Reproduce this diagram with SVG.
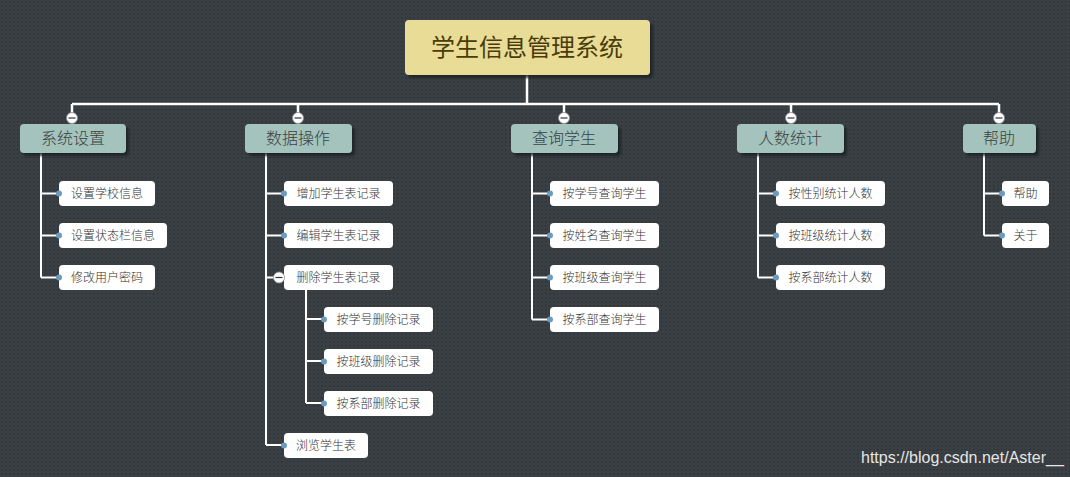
<svg xmlns="http://www.w3.org/2000/svg" width="1070" height="477" viewBox="0 0 1070 477">
<defs>
<pattern id="dots" width="4" height="4" patternUnits="userSpaceOnUse">
<rect width="4" height="4" fill="#393f43"/>
<rect x="1" y="1" width="1.5" height="1.5" fill="#2e3336"/>
</pattern>
<filter id="sh" x="-10%" y="-10%" width="130%" height="140%">
<feDropShadow dx="3" dy="3" stdDeviation="1" flood-color="#1e2224" flood-opacity="0.8"/>
</filter>
</defs>
<style>
.root{fill:#e8dc96;}
.l1{fill:#a3c3bc;}
.leaf{fill:#ffffff;}
.t0{font-family:"Noto Sans CJK SC","Liberation Sans",sans-serif;font-size:24px;fill:#4a3c0c;text-anchor:middle;}
.t1{font-family:"Noto Sans CJK SC","Liberation Sans",sans-serif;font-size:16px;font-weight:300;fill:#3a4244;text-anchor:middle;}
.t2{font-family:"Noto Sans CJK SC","Liberation Sans",sans-serif;font-size:12px;font-weight:300;fill:#333333;text-anchor:middle;}
.ln{stroke:#ffffff;stroke-width:2.5;fill:none;}
.lc{stroke:#ffffff;stroke-width:2;fill:none;}
.dot{fill:#6b9cc0;}
.col{fill:#ffffff;stroke:#8a9090;stroke-width:0.8;}
.minus{stroke:#333;stroke-width:1.2;}
</style>
<rect width="1070" height="477" fill="url(#dots)"/>

<g id="connectors">
<path class="ln" d="M527 75 V104 M72 104 H999 M72 104 V118 M298 104 V118 M564 104 V118 M791 104 V118 M999 104 V118"/>
<path class="lc" d="M41 153 V277.5 M41 193.5 H59 M41 235.5 H59 M41 277.5 H59"/>
<path class="lc" d="M266 153 V445 M266 193.5 H284 M266 235.5 H284 M266 277.5 H284 M266 445 H284"/>
<path class="lc" d="M306 290 V403 M306 319 H324 M306 361 H324 M306 403 H324"/>
<path class="lc" d="M532 153 V319.5 M532 193.5 H550 M532 235.5 H550 M532 277.5 H550 M532 319.5 H550"/>
<path class="lc" d="M758 153 V277.5 M758 193.5 H776 M758 235.5 H776 M758 277.5 H776"/>
<path class="lc" d="M984 153 V235.5 M984 193.5 H1002 M984 235.5 H1002"/>
</g>

<g id="root">
<rect class="root" x="405" y="20" width="245" height="55" rx="4" filter="url(#sh)"/>
<text class="t0" x="527" y="56">学生信息管理系统</text>
</g>

<g id="n-xtsz">
<rect class="l1" x="20" y="124" width="106" height="29" rx="4" filter="url(#sh)"/>
<text class="t1" x="73" y="144">系统设置</text>
<circle class="col" cx="72" cy="118" r="5.5"/><line class="minus" x1="68.5" y1="118" x2="75.5" y2="118"/>
</g>
<g id="n-sjcz">
<rect class="l1" x="245" y="124" width="107" height="29" rx="4" filter="url(#sh)"/>
<text class="t1" x="298" y="144">数据操作</text>
<circle class="col" cx="298" cy="118" r="5.5"/><line class="minus" x1="294.5" y1="118" x2="301.5" y2="118"/>
</g>
<g id="n-cxxs">
<rect class="l1" x="511" y="124" width="107" height="29" rx="4" filter="url(#sh)"/>
<text class="t1" x="564" y="144">查询学生</text>
<circle class="col" cx="564" cy="118" r="5.5"/><line class="minus" x1="560.5" y1="118" x2="567.5" y2="118"/>
</g>
<g id="n-rstj">
<rect class="l1" x="737" y="124" width="107" height="29" rx="4" filter="url(#sh)"/>
<text class="t1" x="790" y="144">人数统计</text>
<circle class="col" cx="791" cy="118" r="5.5"/><line class="minus" x1="787.5" y1="118" x2="794.5" y2="118"/>
</g>
<g id="n-bz">
<rect class="l1" x="963" y="124" width="73" height="29" rx="4" filter="url(#sh)"/>
<text class="t1" x="999" y="144">帮助</text>
<circle class="col" cx="999" cy="118" r="5.5"/><line class="minus" x1="995.5" y1="118" x2="1002.5" y2="118"/>
</g>

<g id="c-1"><rect class="leaf" x="59" y="181" width="96" height="25" rx="4"/><circle class="dot" cx="59" cy="193.5" r="3"/><text class="t2" x="107" y="198">设置学校信息</text></g>
<g id="c-2"><rect class="leaf" x="59" y="223" width="108" height="25" rx="4"/><circle class="dot" cx="59" cy="235.5" r="3"/><text class="t2" x="113" y="240">设置状态栏信息</text></g>
<g id="c-3"><rect class="leaf" x="59" y="265" width="96" height="25" rx="4"/><circle class="dot" cx="59" cy="277.5" r="3"/><text class="t2" x="107" y="282">修改用户密码</text></g>

<g id="c-4"><rect class="leaf" x="284" y="181" width="109" height="25" rx="4"/><circle class="dot" cx="284" cy="193.5" r="3"/><text class="t2" x="338.5" y="198">增加学生表记录</text></g>
<g id="c-5"><rect class="leaf" x="284" y="223" width="109" height="25" rx="4"/><circle class="dot" cx="284" cy="235.5" r="3"/><text class="t2" x="338.5" y="240">编辑学生表记录</text></g>
<g id="c-6"><rect class="leaf" x="284" y="265" width="109" height="25" rx="4"/><circle class="col" cx="279" cy="277.5" r="5.5"/><line class="minus" x1="275.5" y1="277.5" x2="282.5" y2="277.5"/><text class="t2" x="338.5" y="282">删除学生表记录</text></g>
<g id="c-7"><rect class="leaf" x="324" y="307" width="109" height="25" rx="4"/><circle class="dot" cx="324" cy="319.5" r="3"/><text class="t2" x="378.5" y="324">按学号删除记录</text></g>
<g id="c-8"><rect class="leaf" x="324" y="349" width="109" height="25" rx="4"/><circle class="dot" cx="324" cy="361.5" r="3"/><text class="t2" x="378.5" y="366">按班级删除记录</text></g>
<g id="c-9"><rect class="leaf" x="324" y="391" width="109" height="25" rx="4"/><circle class="dot" cx="324" cy="403.5" r="3"/><text class="t2" x="378.5" y="408">按系部删除记录</text></g>
<g id="c-10"><rect class="leaf" x="284" y="433" width="84" height="25" rx="4"/><circle class="dot" cx="284" cy="445.5" r="3"/><text class="t2" x="326" y="450">浏览学生表</text></g>

<g id="c-11"><rect class="leaf" x="550" y="181" width="109" height="25" rx="4"/><circle class="dot" cx="550" cy="193.5" r="3"/><text class="t2" x="604.5" y="198">按学号查询学生</text></g>
<g id="c-12"><rect class="leaf" x="550" y="223" width="109" height="25" rx="4"/><circle class="dot" cx="550" cy="235.5" r="3"/><text class="t2" x="604.5" y="240">按姓名查询学生</text></g>
<g id="c-13"><rect class="leaf" x="550" y="265" width="109" height="25" rx="4"/><circle class="dot" cx="550" cy="277.5" r="3"/><text class="t2" x="604.5" y="282">按班级查询学生</text></g>
<g id="c-14"><rect class="leaf" x="550" y="307" width="109" height="25" rx="4"/><circle class="dot" cx="550" cy="319.5" r="3"/><text class="t2" x="604.5" y="324">按系部查询学生</text></g>

<g id="c-15"><rect class="leaf" x="776" y="181" width="109" height="25" rx="4"/><circle class="dot" cx="776" cy="193.5" r="3"/><text class="t2" x="830.5" y="198">按性别统计人数</text></g>
<g id="c-16"><rect class="leaf" x="776" y="223" width="109" height="25" rx="4"/><circle class="dot" cx="776" cy="235.5" r="3"/><text class="t2" x="830.5" y="240">按班级统计人数</text></g>
<g id="c-17"><rect class="leaf" x="776" y="265" width="109" height="25" rx="4"/><circle class="dot" cx="776" cy="277.5" r="3"/><text class="t2" x="830.5" y="282">按系部统计人数</text></g>

<g id="c-18"><rect class="leaf" x="1002" y="181" width="47" height="25" rx="4"/><circle class="dot" cx="1002" cy="193.5" r="3"/><text class="t2" x="1025.5" y="198">帮助</text></g>
<g id="c-19"><rect class="leaf" x="1002" y="223" width="47" height="25" rx="4"/><circle class="dot" cx="1002" cy="235.5" r="3"/><text class="t2" x="1025.5" y="240">关于</text></g>

<text x="861" y="463" font-family="Liberation Sans, Arial, sans-serif" font-size="16" fill="#e6e6e6">https://blog.csdn.net/Aster__</text>
</svg>
